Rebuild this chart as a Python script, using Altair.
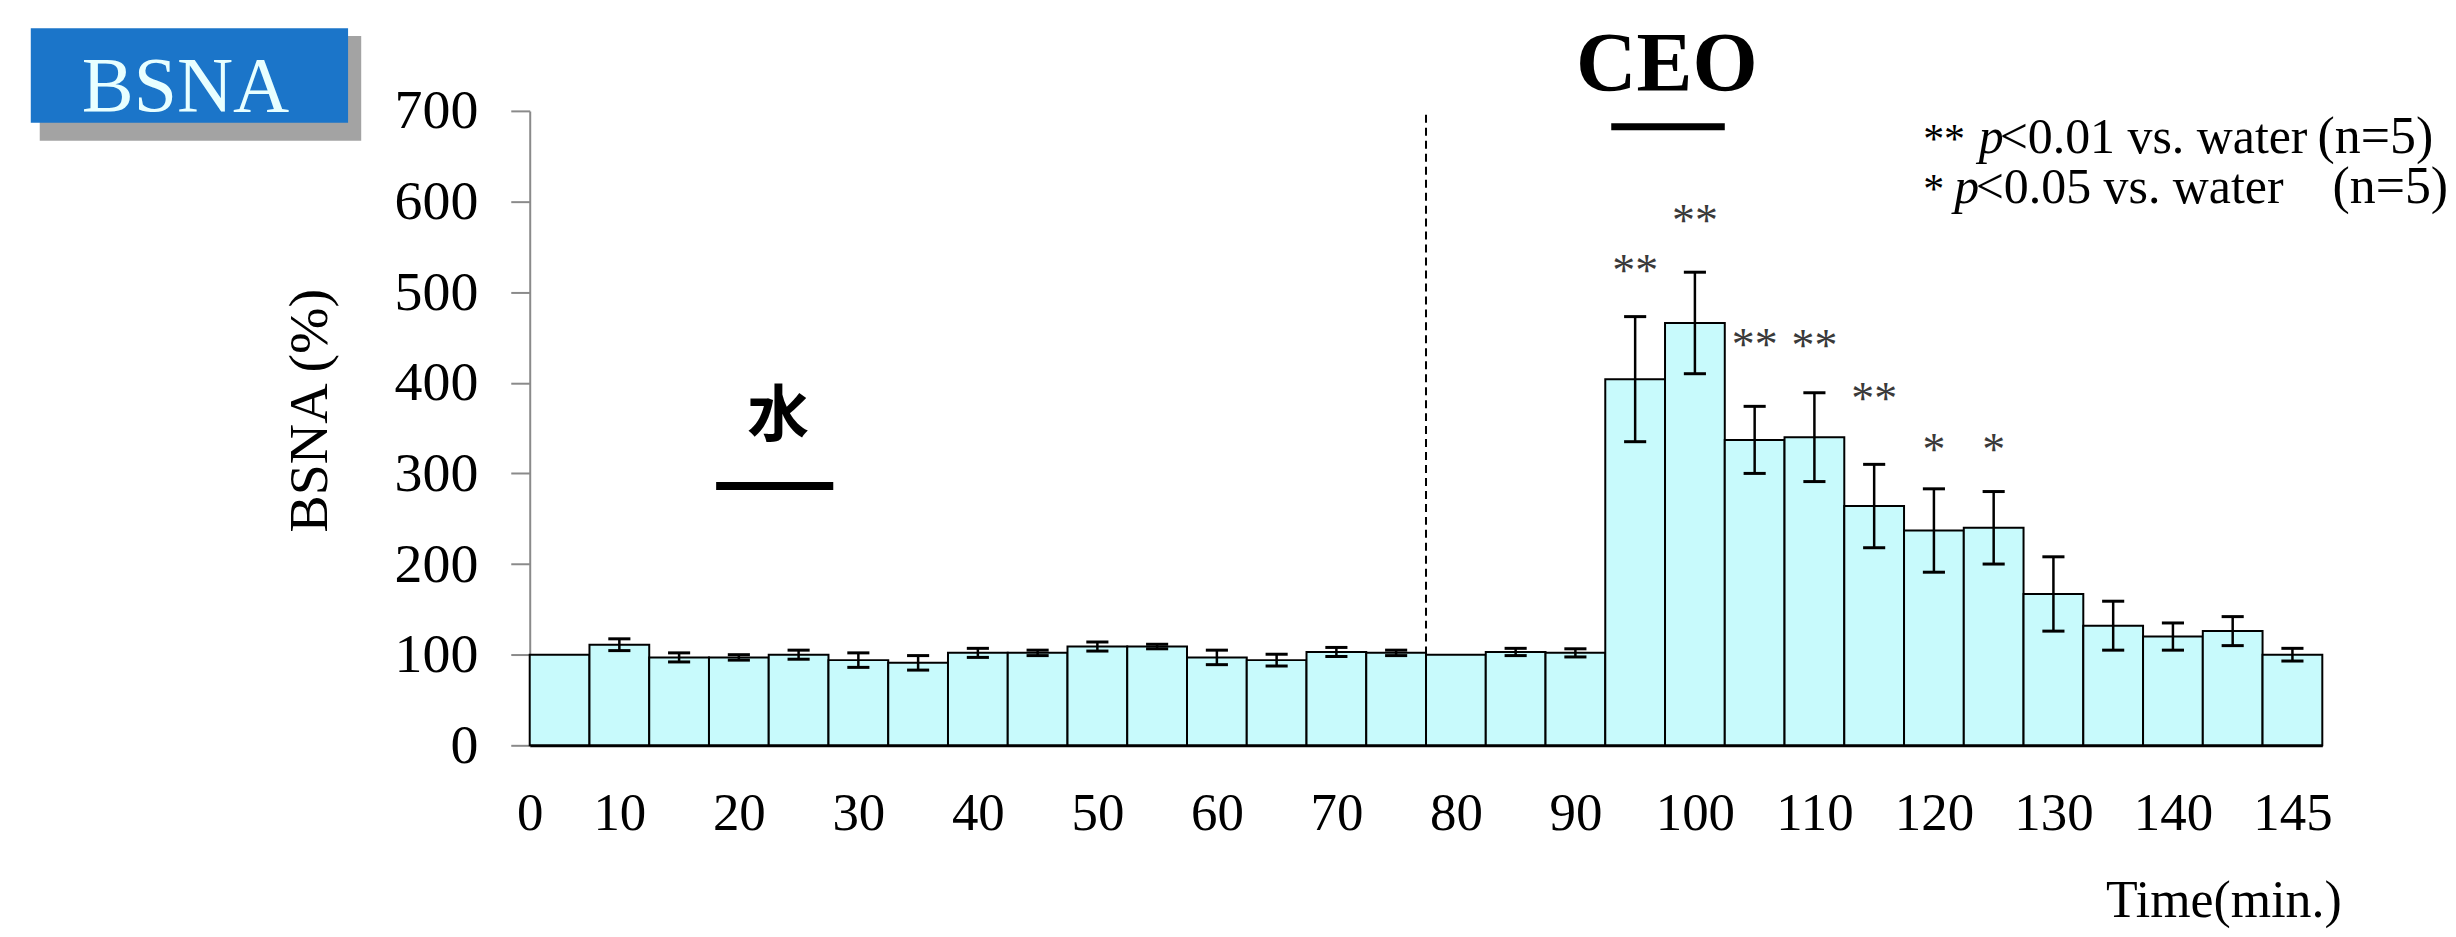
import altair as alt
import pandas as pd

# ---------------- data ----------------
bar_index = list(range(30))
bsna = [100, 111, 97, 97, 100, 94, 91, 102, 102, 109,
        109, 97, 94, 103, 102, 100, 103, 102, 404, 466,
        337, 340, 264, 237, 240, 167, 132, 120, 126, 100]
sem = [0, 6.5, 5, 3, 5, 8, 8, 5, 3, 5,
       2.5, 8, 6.5, 5, 3, 0, 4, 4.5, 69, 56,
       37, 49, 46, 46, 40, 41, 27, 15, 16, 7]

sig_bar = [18, 19, 20, 21, 22, 23, 24]
sig_mark = ["**", "**", "**", "**", "**", "*", "*"]
sig_y = [532, 587, 450, 449, 391, 335, 335]

xtick_pos = [0, 1.5, 3.5, 5.5, 7.5, 9.5, 11.5, 13.5, 15.5, 17.5, 19.5, 21.5, 23.5, 25.5, 27.5, 29.5]
xtick_labels = ["0", "10", "20", "30", "40", "50", "60", "70", "80", "90",
                "100", "110", "120", "130", "140", "145"]
ytick_values = [0, 100, 200, 300, 400, 500, 600, 700]

divider_at = [15]

legend_text = ["**", "p", "<0.01 vs. water", "(n=5)", "*", "p", "<0.05 vs. water", "(n=5)"]
legend_x = [23.32, 24.25, 24.6, 29.92, 23.32, 23.84, 24.2, 30.17]
legend_y = [653.8, 653.8, 653.8, 653.8, 598.7, 598.7, 598.7, 598.7]
legend_part = ["star", "italic", "normal", "n", "star", "italic", "normal", "n"]

SERIF = "Liberation Serif"
xs = alt.Scale(domain=[0, 30], nice=False, zero=False)
ys = alt.Scale(domain=[0, 700], nice=False, zero=False)

df = pd.DataFrame({"bar": bar_index, "bsna": bsna, "sem": sem})

label_expr = ("[" + ",".join(f"'{t}'" for t in xtick_labels) + "][indexof(["
              + ",".join(str(p) for p in xtick_pos) + "], datum.value)]")

x_axis = alt.Axis(values=xtick_pos, labelExpr=label_expr, ticks=False, grid=False,
                  domainColor="black", domainWidth=3, labelFont=SERIF, labelFontSize=53,
                  labelColor="black", labelPadding=42, labelFlush=False, labelOverlap=False,
                  title="Time(min.)", titleFont=SERIF, titleFontSize=52, titleFontWeight="normal",
                  titleColor="black", titleX=1816, titleY=172, titleAlign="right",
                  titleBaseline="alphabetic")
y_axis = alt.Axis(values=ytick_values, grid=False, domainColor="#8a8a8a", domainWidth=2,
                  tickColor="#8a8a8a", tickWidth=2, tickSize=19, labelFont=SERIF,
                  labelFontSize=56, labelColor="black", labelPadding=33,
                  title="BSNA (%)", titleFont=SERIF, titleFontSize=56, titleFontWeight="normal",
                  titleColor="black", titleAngle=270, titleX=-221, titleY=300,
                  titleAlign="center", titleBaseline="middle")


def X(field):
    return alt.X(field, scale=xs, axis=x_axis)


def Y(field):
    return alt.Y(field, scale=ys, axis=y_axis)


bars = alt.Chart(df).transform_calculate(
    bar_end="datum.bar + 1", base="0"
).mark_rect(fill="#c8fafc", stroke="black", strokeWidth=2).encode(
    x=X("bar:Q"), x2="bar_end:Q", y=Y("bsna:Q"), y2="base:Q",
)

err_base = alt.Chart(df).transform_filter("datum.sem > 0").transform_calculate(
    xc="datum.bar + 0.5", lo="datum.bsna - datum.sem", hi="datum.bsna + datum.sem"
)
err_line = err_base.mark_rule(color="black", strokeWidth=2.5).encode(
    x=X("xc:Q"), y=Y("lo:Q"), y2="hi:Q",
)
caps = err_base.transform_fold(["lo", "hi"], as_=["end", "val"]).transform_calculate(
    xa="datum.bar + 0.5 - 0.185", xb="datum.bar + 0.5 + 0.185"
).mark_rule(color="black", strokeWidth=3).encode(
    x=X("xa:Q"), x2="xb:Q", y=Y("val:Q"),
)

divider = alt.Chart(pd.DataFrame({"x": divider_at, "y0": [0], "y1": [700]})).mark_rule(
    color="black", strokeWidth=2, strokeDash=[8, 5]
).encode(x=X("x:Q"), y=Y("y0:Q"), y2="y1:Q")

stars_df = pd.DataFrame({"bar": sig_bar, "mark": sig_mark, "ypos": sig_y})
star_text = alt.Chart(stars_df).transform_calculate(xc="datum.bar + 0.5").mark_text(
    font=SERIF, fontSize=46, color="#3a3a3a", baseline="alphabetic", dy=23, align="center"
).encode(x=X("xc:Q"), y=Y("ypos:Q"), text="mark:N")

leg_df = pd.DataFrame({"text": legend_text, "x": legend_x, "y": legend_y, "part": legend_part})


def legend_layer(part, **style):
    return alt.Chart(leg_df).transform_filter(f"datum.part == '{part}'").mark_text(
        font=SERIF, color="black", align="left", baseline="alphabetic", **style
    ).encode(x=X("x:Q"), y=Y("y:Q"), text="text:N")


leg_star = legend_layer("star", fontSize=42)
leg_italic = legend_layer("italic", fontSize=50, fontStyle="italic")
leg_normal = legend_layer("normal", fontSize=50)
leg_n = legend_layer("n", fontSize=52)

ceo_text = alt.Chart(pd.DataFrame({"x": [19.03], "y": [722], "t": ["CEO"]})).mark_text(
    font=SERIF, fontSize=84, fontWeight="bold", color="black", align="center", baseline="alphabetic"
).encode(x=X("x:Q"), y=Y("y:Q"), text="t:N")
ceo_line = alt.Chart(pd.DataFrame({"x": [18.1], "x2": [20.0], "y": [682.4]})).mark_rule(
    color="black", strokeWidth=7
).encode(x=X("x:Q"), x2="x2:Q", y=Y("y:Q"))

water_text = alt.Chart(pd.DataFrame({"x": [4.16], "y": [362], "t": ["水"]})).mark_text(
    font="Noto Sans CJK JP", fontSize=62, fontWeight="bold", color="black", align="center",
    baseline="middle"
).encode(x=X("x:Q"), y=Y("y:Q"), text="t:N")
water_line = alt.Chart(pd.DataFrame({"x": [3.12], "x2": [5.08], "y": [286]})).mark_rule(
    color="black", strokeWidth=8
).encode(x=X("x:Q"), x2="x2:Q", y=Y("y:Q"))

shadow = alt.Chart(pd.DataFrame({"x": [-8.2], "x2": [-2.82], "y": [667], "y2": [782.5]})).mark_rect(
    fill="#a3a3a3"
).encode(x=X("x:Q"), x2="x2:Q", y=Y("y:Q"), y2="y2:Q")
box = alt.Chart(pd.DataFrame({"x": [-8.35], "x2": [-3.04], "y": [686.8], "y2": [791.3]})).mark_rect(
    fill="#1b75c9"
).encode(x=X("x:Q"), x2="x2:Q", y=Y("y:Q"), y2="y2:Q")
box_text = alt.Chart(pd.DataFrame({"x": [-5.76], "y": [700], "t": ["BSNA"]})).mark_text(
    font=SERIF, fontSize=78, color="#e8ffff", align="center", baseline="alphabetic"
).encode(x=X("x:Q"), y=Y("y:Q"), text="t:N")

chart = alt.layer(
    bars, err_line, caps, divider, star_text, leg_star, leg_italic, leg_normal, leg_n,
    ceo_text, ceo_line, water_text, water_line, shadow, box, box_text
).properties(
    width=1797, height=636,
    padding={"left": 523, "top": 102, "right": 126, "bottom": 183},
    autosize=alt.AutoSizeParams(type="none"),
).configure_view(strokeWidth=0)

chart.save("out.html", embed_options={"renderer": "svg", "actions": False})
